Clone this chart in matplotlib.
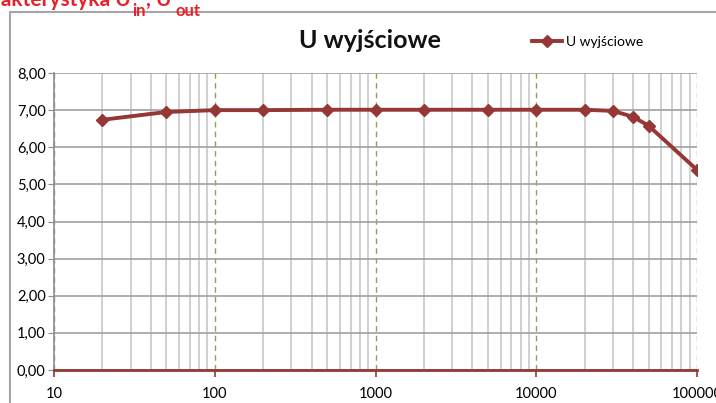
import matplotlib
matplotlib.use('Agg')
import matplotlib.pyplot as plt
from matplotlib.ticker import FixedLocator, FuncFormatter, NullFormatter, LogLocator
from matplotlib.patches import Rectangle

# frequency [Hz] and output voltage [V]
freq = [20, 50, 100, 200, 500, 1000, 2000, 5000, 10000, 20000, 30000, 40000, 50000, 100000]
u_out = [6.74, 6.95, 7.00, 7.00, 7.01, 7.01, 7.01, 7.01, 7.01, 7.01, 6.98, 6.82, 6.58, 5.39]
y_ticks = [0, 1, 2, 3, 4, 5, 6, 7, 8]
x_ticks = [10, 100, 1000, 10000, 100000]

plt.rcParams['font.family'] = ['Lato', 'DejaVu Sans']

W, H = 716, 403
fig = plt.figure(figsize=(W / 100, H / 100), dpi=100)

# chart frame (cut off by the screenshot on the right and bottom)
fig.patches.append(Rectangle((10 / W, -0.1), 1.2, (H - 12) / H + 0.1, transform=fig.transFigure,
                             fill=False, edgecolor='#a6a6a6', linewidth=1.5))

# red heading of the document, mostly cut off at the top
red = '#e8202a'
fig.text(131 / W, (H - 6) / H, 'Charakterystyka U', color=red, fontsize=15,
         fontweight='bold', ha='right', va='baseline')
fig.text(132 / W, (H - 16) / H, 'in', color=red, fontsize=12,
         fontweight='bold', ha='left', va='baseline')
fig.text(146 / W, (H - 6) / H, ', U', color=red, fontsize=15,
         fontweight='bold', ha='left', va='baseline')
fig.text(176 / W, (H - 16) / H, 'out', color=red, fontsize=12,
         fontweight='bold', ha='left', va='baseline')

ax = fig.add_axes([54 / W, (H - 370) / H, (697 - 54) / W, (370 - 73) / H])
ax.plot(freq, u_out, color='#953735', linewidth=2.8, marker='D', markersize=6.5,
        label='U wyjściowe', zorder=5)

ax.set_xscale('log')
ax.set_xlim(10, 100000)
ax.set_ylim(0, 8)

ax.xaxis.set_major_locator(FixedLocator(x_ticks))
ax.xaxis.set_major_formatter(FuncFormatter(lambda v, p: '%d' % v))
ax.xaxis.set_minor_locator(LogLocator(base=10, subs=range(2, 10)))
ax.xaxis.set_minor_formatter(NullFormatter())
ax.yaxis.set_major_locator(FixedLocator(y_ticks))
ax.yaxis.set_major_formatter(FuncFormatter(lambda v, p: ('%.2f' % v).replace('.', ',')))

ax.grid(which='minor', axis='x', color='#c8c8c8', linewidth=1.2, linestyle='-')
ax.grid(which='major', axis='x', color='#9a9a5a', linewidth=1.0, linestyle=(0, (4, 3)))
ax.grid(which='major', axis='y', color='#a0a0a0', linewidth=1.2)
ax.set_axisbelow(True)

for s in ['top', 'right']:
    ax.spines[s].set_visible(False)
ax.spines['left'].set_color('#8c8c8c')
ax.spines['left'].set_linewidth(1.2)
ax.spines['bottom'].set_color('#953735')
ax.spines['bottom'].set_linewidth(2)
ax.spines['bottom'].set_zorder(6)

ax.tick_params(axis='y', which='major', length=4, color='#8c8c8c', labelsize=10.5, pad=2)
ax.tick_params(axis='x', which='major', length=5, color='#953735', width=1.2,
               labelsize=10.5, pad=7)
ax.tick_params(axis='x', which='minor', length=0)

fig.text(370 / W, (H - 41) / H, 'U wyjściowe', fontsize=18, fontweight='bold',
         ha='center', va='center', color='#111111')

ax.legend(loc='center left', bbox_to_anchor=(526 / W, (H - 42) / H),
          bbox_transform=fig.transFigure, frameon=False, fontsize=10,
          handlelength=2.2, handletextpad=0.25, borderaxespad=0)

fig.savefig('out.png', dpi=100)
